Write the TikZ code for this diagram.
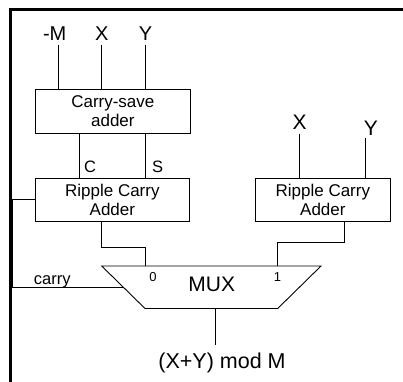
\documentclass[tikz,border=0pt]{standalone}
\usepackage{fontspec}
\setmainfont{Liberation Sans}
\usetikzlibrary{positioning}

\begin{document}
\begin{tikzpicture}[
  x=1pt, y=-1pt,
  wire/.style = {line width=0.9pt},
  frame/.style = {line width=2.6pt},
  block/.style = {draw, line width=0.9pt, align=center, font=\fontsize{17}{19}\selectfont},
  muxtext/.style = {inner sep=0pt, font=\fontsize{21}{24}\selectfont},
  inlabel/.style = {anchor=base, inner sep=0pt, outer ysep=4.5pt, font=\fontsize{20}{24}\selectfont},
  sig/.style = {anchor=base, inner sep=0pt, font=\fontsize{16.5}{19}\selectfont},
  port/.style = {anchor=base, inner sep=0pt, font=\fontsize{13}{15}\selectfont}
]
  \useasboundingbox (0,0) rectangle (403,381);

  % Frame
  \draw[frame] (10.5,390) |- (410,9.3);

  % Nodes
  \node[block, minimum width=154.3pt, minimum height=44pt] (csa) at (112.85,111.3) {Carry-save\\adder};
  \node[block, minimum width=153.3pt, minimum height=43.7pt] (rca1) at (112.35,199.85) {Ripple Carry\\Adder};
  \node[block, minimum width=134.3pt, minimum height=43.7pt] (rca2) at (322.85,199.85) {Ripple Carry\\Adder};

  % MUX body
  \coordinate (muxtl) at (101.7,266);
  \coordinate (muxtr) at (321,266);
  \coordinate (muxbr) at (277.7,308.5);
  \coordinate (muxbl) at (145,308.5);
  \draw[wire] (muxtl) -- (muxtr) -- (muxbr) -- (muxbl) -- cycle;
  \node[muxtext] (mux) at (211.7,284.8) {MUX};
  \coordinate (muxin0) at (145.7,266);
  \coordinate (muxin1) at (277.3,266);
  \coordinate (muxsel) at (123.3,287.3);
  \coordinate (muxout) at (215.7,308.5);

  \node[inlabel] (inM) at (54.7,40) {-M};
  \node[inlabel] (inX) at (101.7,40) {X};
  \node[inlabel] (inY) at (145.5,40) {Y};
  \node[inlabel, font=\fontsize{21}{24}\selectfont] (inX2) at (299.5,129.3) {X};
  \node[inlabel, font=\fontsize{21}{24}\selectfont] (inY2) at (370.8,135) {Y};

  \node[sig, anchor=base west] (lblC) at (84,172.7) {C};
  \node[sig, anchor=base west] (lblS) at (152,172.7) {S};
  \node[sig] (lblcarry) at (52.2,284.3) {carry};
  \node[port] (port0) at (153,281) {0};
  \node[port] (port1) at (277.5,281) {1};

  \node[anchor=base, inner sep=0pt, font=\fontsize{21.5}{24}\selectfont] (out) at (222,368) {(X+Y) mod M};
  \coordinate (outtop) at (215.7,345);

  % Connections
  \draw[wire] ([xshift=3.3pt]inM.south) -- ([xshift=3.3pt]inM.south |- csa.north);
  \draw[wire] (inX.south) -- (inX.south |- csa.north);
  \draw[wire] (inY.south) -- (inY.south |- csa.north);

  \draw[wire] ([xshift=-33.5pt]csa.south) -- ([xshift=-33.5pt]csa.south |- rca1.north);
  \draw[wire] ([xshift=32.5pt]csa.south) -- ([xshift=32.5pt]csa.south |- rca1.north);

  \draw[wire] (inX2.south) -- (inX2.south |- rca2.north);
  \draw[wire] ([xshift=-5.5pt,yshift=2pt]inY2.south) -- ([xshift=-5.5pt]inY2.south |- rca2.north);

  % Adders to MUX
  \draw[wire] ([xshift=-10.65pt]rca1.south) -- ++(0,25.6) -| (muxin0);
  \draw[wire] ([xshift=21.15pt]rca2.south) -- ++(0,19.8) -| (muxin1);
  \draw[wire] (rca1.west) -- ++(-22.4,0) |- (muxsel);

  % Output
  \draw[wire] (muxout) -- (outtop);
\end{tikzpicture}
\end{document}
